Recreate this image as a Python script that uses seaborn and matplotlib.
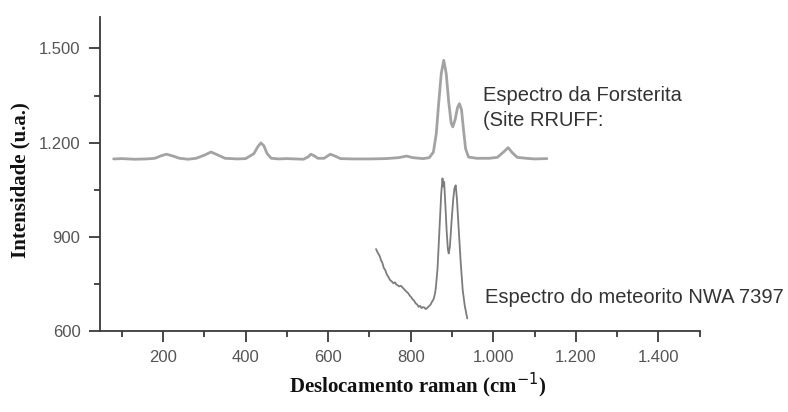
import matplotlib
matplotlib.use("Agg")
import matplotlib.pyplot as plt
import seaborn as sns
import pandas as pd
from matplotlib.ticker import FixedLocator, FixedFormatter

# ---- data ----
forst_x = [80, 100, 130, 160, 180, 195, 208, 222, 240, 260, 280, 300, 316, 330, 350, 380,
           400, 420, 430, 437, 444, 452, 462, 480, 500, 520, 540, 552, 558, 566, 575, 590,
           605, 615, 630, 660, 700, 740, 770, 790, 805, 830, 845, 855, 862, 868, 874, 880,
           886, 892, 898, 902, 908, 913, 918, 923, 928, 933, 940, 960, 990, 1010, 1025,
           1036, 1046, 1058, 1080, 1100, 1130]
forst_y = [1148, 1149, 1147, 1148, 1150, 1158, 1163, 1158, 1150, 1147, 1150, 1160, 1170, 1162,
           1150, 1148, 1149, 1165, 1188, 1199, 1190, 1165, 1150, 1148, 1149, 1148, 1147, 1155,
           1163, 1158, 1150, 1150, 1163, 1158, 1149, 1148, 1148, 1149, 1152, 1157, 1152, 1149,
           1152, 1170, 1230, 1330, 1420, 1462, 1420, 1330, 1262, 1250, 1275, 1310, 1324, 1305,
           1240, 1180, 1154, 1150, 1150, 1153, 1170, 1184, 1168, 1153, 1150, 1148, 1149]

meteo_x = [716, 719, 722, 725, 728, 731, 735, 738, 742, 746, 750, 754, 758, 762, 765, 768,
           772, 776, 782, 786, 790, 794, 798, 801, 805, 808, 812, 816, 819, 823, 826, 830,
           833, 836, 839, 842, 845, 848, 851, 854, 856, 859, 861, 863, 865, 868, 871, 874,
           877, 879, 881, 884, 887, 890, 892, 895, 899, 903, 906, 909, 912, 916, 921, 926,
           931, 937]
meteo_y = [861, 852, 845, 838, 825, 818, 800, 795, 780, 772, 762, 758, 752, 755, 748, 746,
           742, 744, 736, 730, 725, 720, 712, 708, 700, 697, 688, 684, 677, 680, 673, 676,
           675, 670, 672, 676, 680, 684, 692, 698, 704, 720, 740, 770, 800, 880, 960, 1040,
           1086, 1060, 1075, 1000, 920, 860, 847, 870, 950, 1020, 1055, 1064, 1020, 930, 820,
           730, 680, 640]

x_ticks = [200, 400, 600, 800, 1000, 1200, 1400]
x_tick_labels = ["200", "400", "600", "800", "1.000", "1.200", "1.400"]
x_minor = [100, 300, 500, 700, 900, 1100, 1300, 1500]
y_ticks = [600, 900, 1200, 1500]
y_tick_labels = ["600", "900", "1.200", "1.500"]
y_minor = [750, 1050, 1350]

label_forst = ["Espectro da Forsterita", "(Site RRUFF:"]
label_meteo = "Espectro do meteorito NWA 7397"
xlabel = "Deslocamento raman (cm$^{-1}$)"
ylabel = "Intensidade (u.a.)"

# ---- plot ----
sns.set_style("white")
plt.rcParams["font.family"] = ["Liberation Sans", "DejaVu Sans"]

fig = plt.figure(figsize=(7.88, 4.12), dpi=100)
ax = fig.add_axes([100 / 788, 1 - 331 / 412, 600 / 788, 314 / 412])

df_f = pd.DataFrame({"x": forst_x, "y": forst_y})
df_m = pd.DataFrame({"x": meteo_x, "y": meteo_y})
sns.lineplot(data=df_f, x="x", y="y", ax=ax, sort=False, estimator=None,
             color="#a3a3a3", linewidth=2.0)
sns.lineplot(data=df_m, x="x", y="y", ax=ax, sort=False, estimator=None,
             color="#7c7c7c", linewidth=1.3)

ax.set_xlim(47, 1501)
ax.set_ylim(600, 1600)

for s in ["top", "right"]:
    ax.spines[s].set_visible(False)
for s in ["left", "bottom"]:
    ax.spines[s].set_color("#3a3a3a")
    ax.spines[s].set_linewidth(1.3)

ax.xaxis.set_major_locator(FixedLocator(x_ticks))
ax.xaxis.set_major_formatter(FixedFormatter(x_tick_labels))
ax.xaxis.set_minor_locator(FixedLocator(x_minor))
ax.yaxis.set_major_locator(FixedLocator(y_ticks))
ax.yaxis.set_major_formatter(FixedFormatter(y_tick_labels))
ax.yaxis.set_minor_locator(FixedLocator(y_minor))

ax.tick_params(which="major", direction="out", length=8, width=1.3, color="#3a3a3a",
               labelsize=12, labelcolor="#555555", pad=6, bottom=True, left=True)
ax.tick_params(which="minor", direction="out", length=4.5, width=1.3, color="#3a3a3a",
               bottom=True, left=True)
ax.set_xlabel("")
ax.set_ylabel("")

ax.text(975, 1350, label_forst[0], fontsize=14.5, color="#333333", va="center", ha="left")
ax.text(975, 1271, label_forst[1], fontsize=14.5, color="#333333", va="center", ha="left")
ax.text(980, 708, label_meteo, fontsize=14.5, color="#333333", va="center", ha="left")

fig.text(418 / 788, 1 - 385 / 412, xlabel, ha="center", va="center", fontsize=15,
         fontweight="bold", family=["Liberation Serif", "DejaVu Serif"], color="#111111")
fig.text(20 / 788, 1 - 180 / 412, ylabel, ha="center", va="center", rotation=90,
         fontsize=15, fontweight="bold", family=["Liberation Serif", "DejaVu Serif"],
         color="#111111")

fig.savefig("out.png", dpi=100)
